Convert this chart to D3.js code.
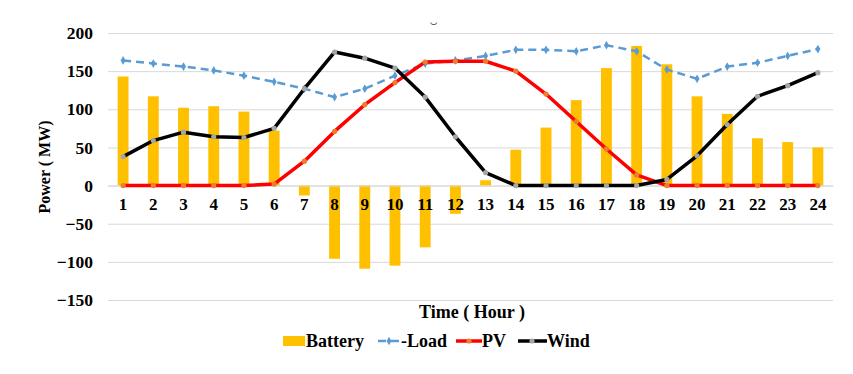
<!DOCTYPE html>
<html>
<head>
<meta charset="utf-8">
<script src="https://cdn.jsdelivr.net/npm/d3@7"></script>
<style>
  body { margin: 0; background: #fff; }
  svg { display: block; }
</style>
</head>
<body>
<svg id="chart" width="853" height="374"></svg>
<script>
// hours 1..24
const hours = d3.range(1, 25);
const battery = [143, 117, 102, 104, 97, 72, -13, -96, -109, -105, -81, -37, 7, 47, 76, 112, 154, 183, 159, 117, 94, 62, 57, 50];
const load = [164, 160, 156, 151, 144, 136, 127, 116, 127, 144, 160, 164, 170, 178, 178, 176, 184, 176, 152, 140, 156, 161, 170, 179];
const pv = [0, 0, 0, 0, 0, 2, 32, 71, 106, 135, 162, 163, 163, 150, 120, 84, 48, 14, 0, 0, 0, 0, 0, 0];
const wind = [38, 59, 70, 64, 63, 75, 127, 175, 167, 154, 116, 64, 17, 0, 0, 0, 0, 0, 8, 39, 80, 117, 131, 148];
const yTicks = [-150, -100, -50, 0, 50, 100, 150, 200];

const width = 853, height = 374;
const margin = {left: 108, right: 20, top: 33, bottom: 74};
const FONT = "'Liberation Serif', 'Times New Roman', 'DejaVu Serif', serif";

const svg = d3.select('#chart');

// common label style
function lbl(sel, size) {
  return sel.style('font-family', FONT)
    .style('font-weight', 'bold')
    .style('font-size', (size || 17) + 'px')
    .attr('fill', '#000');
}

const x = d3.scaleBand()
  .domain(hours)
  .range([margin.left, width - margin.right])
  .paddingInner(0.64)
  .paddingOuter(0.32);
const xc = d => x(d) + x.bandwidth() / 2;
const y = d3.scaleLinear()
  .domain([-150, 200])
  .range([height - margin.bottom, margin.top]);

// grid + y labels
const yAxis = d3.axisLeft(y)
  .tickValues(yTicks)
  .tickSize(-(width - margin.left - margin.right))
  .tickPadding(15);
const yg = svg.append('g')
  .attr('transform', `translate(${margin.left},0)`)
  .call(yAxis);
yg.select('.domain').remove();
yg.selectAll('.tick line').attr('stroke', '#d9d9d9').attr('stroke-width', 1);
lbl(yg.selectAll('.tick text'), 17.5);

// battery bars
svg.append('g').selectAll('rect')
  .data(battery)
  .join('rect')
  .attr('x', (d, i) => x(hours[i]))
  .attr('width', x.bandwidth())
  .attr('y', d => y(Math.max(0, d)))
  .attr('height', d => Math.abs(y(d) - y(0)))
  .attr('fill', '#ffc000');

// x axis labels sit under zero line
const xAxis = d3.axisBottom(x).tickSize(0).tickPadding(12);
const xg = svg.append('g')
  .attr('transform', `translate(0,${y(0)})`)
  .call(xAxis);
xg.select('.domain').attr('stroke', '#d9d9d9');
lbl(xg.selectAll('.tick text'), 17);

function series(vals, color, w, dash, mcolor, shape) {
  const line = d3.line()
    .x((d, i) => xc(hours[i]))
    .y(d => y(d));
  svg.append('path')
    .datum(vals)
    .attr('d', line)
    .attr('fill', 'none')
    .attr('stroke', color)
    .attr('stroke-width', w)
    .attr('stroke-dasharray', dash)
    .attr('stroke-linejoin', 'round');
  const g = svg.append('g');
  if (shape === 'diamond') {
    g.selectAll('path')
      .data(vals)
      .join('path')
      .attr('d', d3.symbol(d3.symbolDiamond, 22))
      .attr('transform', (d, i) => `translate(${xc(hours[i])},${y(d)})`)
      .attr('fill', mcolor);
  } else {
    g.selectAll('circle')
      .data(vals)
      .join('circle')
      .attr('cx', (d, i) => xc(hours[i]))
      .attr('cy', d => y(d))
      .attr('r', 2.6)
      .attr('fill', mcolor);
  }
}

series(load, '#5b9bd5', 2.5, '8,5', '#5b9bd5', 'diamond');
series(pv, '#ff0000', 3.5, null, '#ed7d31', 'circle');
series(wind, '#000000', 3.5, null, '#a5a5a5', 'circle');

// axis titles
lbl(svg.append('text'), 16)
  .attr('transform', `translate(50,167) rotate(-90)`)
  .attr('text-anchor', 'middle')
  .text('Power ( MW)');
lbl(svg.append('text'), 18)
  .attr('x', 472).attr('y', 318)
  .attr('text-anchor', 'middle')
  .text('Time ( Hour )');

// stray mark at top
svg.append('text')
  .attr('x', 433).attr('y', 22)
  .attr('text-anchor', 'middle')
  .style('font-size', '12px')
  .attr('fill', '#444')
  .text('\u203F');

// legend
const lg = svg.append('g').attr('transform', 'translate(0,341)');
lg.append('rect').attr('x', 283).attr('y', -5).attr('width', 22).attr('height', 10).attr('fill', '#ffc000');
lbl(lg.append('text'), 18).attr('x', 306).attr('y', 6).text('Battery');

lg.append('line').attr('x1', 378).attr('x2', 400).attr('y1', 0).attr('y2', 0)
  .attr('stroke', '#5b9bd5').attr('stroke-width', 2.5).attr('stroke-dasharray', '8,5');
lg.append('path').attr('d', d3.symbol(d3.symbolDiamond, 22)).attr('transform', 'translate(389,0)').attr('fill', '#5b9bd5');
lbl(lg.append('text'), 18).attr('x', 401).attr('y', 6).text('-Load');

lg.append('line').attr('x1', 456).attr('x2', 482).attr('y1', 0).attr('y2', 0)
  .attr('stroke', '#ff0000').attr('stroke-width', 3.5);
lg.append('circle').attr('cx', 469).attr('cy', 0).attr('r', 2.6).attr('fill', '#ed7d31');
lbl(lg.append('text'), 18).attr('x', 482).attr('y', 6).text('PV');

lg.append('line').attr('x1', 518).attr('x2', 547).attr('y1', 0).attr('y2', 0)
  .attr('stroke', '#000').attr('stroke-width', 3.5);
lg.append('circle').attr('cx', 532).attr('cy', 0).attr('r', 2.6).attr('fill', '#a5a5a5');
lbl(lg.append('text'), 18).attr('x', 547).attr('y', 6).text('Wind');
</script>
</body>
</html>
